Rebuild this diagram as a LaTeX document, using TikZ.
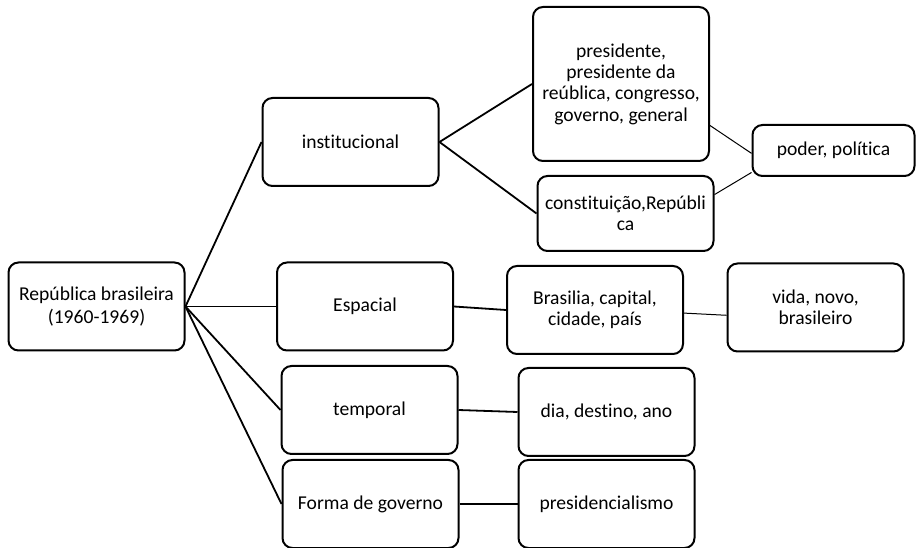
\documentclass[tikz,border=0pt]{standalone}
\usepackage{fontspec}
\setmainfont{Carlito}[Ligatures=NoCommon]
\tikzset{
    box/.style={draw, line width=1.5pt, rounded corners=7.5pt, align=center,
        minimum width=132pt, minimum height=66pt, inner sep=2pt,
        font=\fontsize{14.7pt}{16pt}\selectfont},
    thinlink/.style={line width=0.75pt},
    thicklink/.style={line width=1.35pt}
}
\begin{document}
\begin{tikzpicture}[x=0.75pt, y=-0.75pt]
    \useasboundingbox (0,0) rectangle (917,548);

    % Root
    \node[box, font=\fontsize{14.7pt}{17pt}\selectfont] (root) at (96.5,306.5)
        {República brasileira\\(1960-1969)};

    % First level
    \node[box] (inst) at (350.5,142) {institucional};
    \node[box] (esp) at (365,306.5) {Espacial};
    \node[box] (temp) at (369.5,410) {temporal};
    \node[box] (forma) at (370.5,504) {Forma de governo};

    % Second level
    \node[box, minimum height=115.5pt] (pres) at (621,84)
        {presidente,\\presidente da\\reública, congresso,\\governo, general};
    \node[box, minimum height=56.25pt] (const) at (625.5,213.5)
        {constituição,Repúbli\\ca};
    \node[box] (bras) at (595,310) {Brasilia, capital,\\cidade, país};
    \node[box] (dia) at (606.5,412) {dia, destino, ano};
    \node[box] (presid) at (606.5,504) {presidencialismo};

    % Third level
    \node[box, minimum width=121.5pt, minimum height=38.25pt] (poder) at (833.5,150.5)
        {poder, política};
    \node[box] (vida) at (815.5,307.5) {vida, novo,\\brasileiro};

    % Links from the root
    \foreach \n in {inst, esp, temp, forma} {
        \draw[thicklink] (root.east) -- (\n.west);
    }

    % Links to the second level
    \draw[thicklink] (inst.east) -- (pres.west);
    \draw[thicklink] (inst.east) -- (const.west);
    \draw[thicklink] (esp.east) -- (bras.west);
    \draw[thicklink] (temp.east) -- (dia.west);
    \draw[thicklink] (forma.east) -- (presid.west);

    % Links to the third level
    \draw[thinlink] (pres.-25) -- (poder.182);
    \draw[thinlink] (const.12) -- (poder.195);
    \draw[thinlink] (bras.-2) -- (vida.185);
\end{tikzpicture}
\end{document}
